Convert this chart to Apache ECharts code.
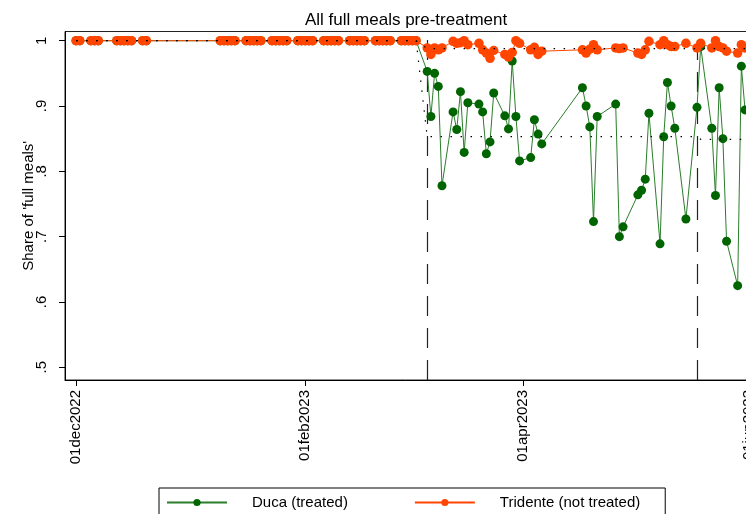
<!DOCTYPE html>
<html><head><meta charset="utf-8">
<script src="https://cdn.jsdelivr.net/npm/echarts@6/dist/echarts.min.js"></script>
<style>html,body{margin:0;padding:0;background:#fff}#c{width:746px;height:514px}</style>
</head><body><div id="c"></div>
<script>
// ---- data ----
const dates = [
 '2022-12-01','2022-12-02','2022-12-05','2022-12-06','2022-12-07',
 '2022-12-12','2022-12-13','2022-12-14','2022-12-15','2022-12-16',
 '2022-12-19','2022-12-20',
 '2023-01-09','2023-01-10','2023-01-11','2023-01-12','2023-01-13',
 '2023-01-16','2023-01-17','2023-01-18','2023-01-19','2023-01-20',
 '2023-01-23','2023-01-24','2023-01-25','2023-01-26','2023-01-27',
 '2023-01-30','2023-01-31','2023-02-01','2023-02-02','2023-02-03',
 '2023-02-06','2023-02-07','2023-02-08','2023-02-09','2023-02-10',
 '2023-02-13','2023-02-14','2023-02-15','2023-02-16','2023-02-17',
 '2023-02-20','2023-02-21','2023-02-22','2023-02-23','2023-02-24',
 '2023-02-27','2023-02-28','2023-03-01','2023-03-02','2023-03-03',
 '2023-03-06','2023-03-07','2023-03-08','2023-03-09','2023-03-10',
 '2023-03-13','2023-03-14','2023-03-15','2023-03-16','2023-03-17',
 '2023-03-20','2023-03-21','2023-03-22','2023-03-23','2023-03-24',
 '2023-03-27','2023-03-28','2023-03-29','2023-03-30','2023-03-31',
 '2023-04-03','2023-04-04','2023-04-05','2023-04-06',
 '2023-04-17','2023-04-18','2023-04-19','2023-04-20','2023-04-21',
 '2023-04-26','2023-04-27','2023-04-28',
 '2023-05-02','2023-05-03','2023-05-04','2023-05-05',
 '2023-05-08','2023-05-09','2023-05-10','2023-05-11','2023-05-12',
 '2023-05-15','2023-05-18','2023-05-19',
 '2023-05-22','2023-05-23','2023-05-24','2023-05-25','2023-05-26',
 '2023-05-29','2023-05-30','2023-05-31'
];
const duca = [
 1,1,1,1,1, 1,1,1,1,1, 1,1,
 1,1,1,1,1, 1,1,1,1,1, 1,1,1,1,1, 1,1,1,1,1, 1,1,1,1,1, 1,1,1,1,1, 1,1,1,1,1, 1,1,1,1,1,
 0.953,0.884,0.950,0.930,0.778,
 0.891,0.864,0.922,0.829,0.905,
 0.903,0.891,0.827,0.845,0.920,
 0.885,0.865,0.969,0.884,0.816,
 0.821,0.879,0.857,0.842,
 0.928,0.900,0.868,0.723,0.884,
 0.903,0.700,0.715,
 0.764,0.771,0.788,0.889,
 0.689,0.853,0.936,0.900,0.866,
 0.727,0.898,0.991,
 0.866,0.763,0.928,0.850,0.693,
 0.625,0.961,0.894
];
const tridente = [
 1,1,1,1,1, 1,1,1,1,1, 1,1,
 1,1,1,1,1, 1,1,1,1,1, 1,1,1,1,1, 1,1,1,1,1, 1,1,1,1,1, 1,1,1,1,1, 1,1,1,1,1, 1,1,1,1,1,
 0.989,0.979,0.989,0.986,0.989,
 0.999,0.996,0.997,1.000,0.994,
 0.996,0.986,0.981,0.973,0.985,
 0.979,0.975,0.982,1.000,0.996,
 0.986,0.990,0.979,0.984,
 0.986,0.981,0.987,0.994,0.986,
 0.989,0.988,0.989,
 0.981,0.979,0.986,0.999,
 0.994,1.000,0.994,0.991,0.991,
 0.996,0.989,0.996,
 0.989,1.000,0.991,0.989,0.984,
 0.981,0.994,0.989
];
const periodStarts = ['2022-12-01','2023-03-06','2023-05-19'];
const ducaMeans = [1, 0.853, 0.849];
const tridenteMeans = [1, 0.988, 0.988];
const treatmentLines = ['2023-03-06','2023-05-18'];
const xTicks = ['2022-12-01','2023-02-01','2023-04-01','2023-06-01'];
const yTicks = [0.5, 0.6, 0.7, 0.8, 0.9, 1];

// ---- helpers ----
function ts(s){const p=s.split('-').map(Number);return new Date(p[0],p[1]-1,p[2]).getTime();}
const months=['jan','feb','mar','apr','may','jun','jul','aug','sep','oct','nov','dec'];
function fmtDate(v){const d=new Date(v);return String(d.getDate()).padStart(2,'0')+months[d.getMonth()]+d.getFullYear();}
function meanFor(s, means){let idx=0;for(let i=0;i<periodStarts.length;i++){if(ts(s)>=ts(periodStarts[i]))idx=i;}return means[idx];}

const font = '"Liberation Sans", Arial, sans-serif';
const chart = echarts.init(document.getElementById('c'), null, {renderer:'canvas'});
chart.setOption({
  animation:false,
  backgroundColor:'#fff',
  title:{text:'All full meals pre-treatment', left:300, top:7,
    textStyle:{fontFamily:font, fontSize:17, fontWeight:'normal', color:'#000'}},
  grid:{left:65, top:31.5, width:717, height:348.5, outerBoundsMode:'none', containLabel:false,
    show:true, borderColor:'#222', borderWidth:1, backgroundColor:'transparent'},
  legend:{left:159, top:488, orient:'horizontal', padding:[7,25,7,7], itemWidth:60, itemHeight:9, itemGap:66,
    borderColor:'#000', borderWidth:1, borderRadius:0,
    data:['Duca (treated)','Tridente (not treated)'],
    textStyle:{fontFamily:font, fontSize:15, color:'#000', padding:[0,0,0,20]}},
  xAxis:{type:'value', min:ts('2022-11-28'), max:ts('2023-06-10'), scale:true,
    axisLine:{show:true, onZero:false, lineStyle:{color:'#000', width:1}},
    axisTick:{show:true, customValues:xTicks.map(ts), length:6, lineStyle:{color:'#000'}},
    axisLabel:{show:true, customValues:xTicks.map(ts), rotate:90, formatter:fmtDate, margin:10,
      fontFamily:font, fontSize:15, color:'#000'},
    splitLine:{show:false}},
  yAxis:{type:'value', min:0.4805, max:1.0141,
    name:"Share of 'full meals'", nameLocation:'middle', nameGap:29, nameMoveOverlap:false,
    nameTextStyle:{fontFamily:font, fontSize:15, color:'#000'},
    axisLine:{show:true, onZero:false, lineStyle:{color:'#000', width:1}},
    axisTick:{show:true, customValues:yTicks, length:6, lineStyle:{color:'#000'}},
    axisLabel:{show:true, customValues:yTicks, rotate:90, margin:16,
      formatter:v=>v===1?'1':'.'+Math.round(v*10), fontFamily:font, fontSize:15, color:'#000'},
    splitLine:{show:false}},
  series:[
    {name:'treatment', type:'line', data:[], z:1, silent:true,
      markLine:{z:1, silent:true, symbol:['none','none'], label:{show:false},
        lineStyle:{color:'#222', type:[20,12], width:1.2},
        data:treatmentLines.map(d=>({xAxis:ts(d)}))}},
    {name:'Duca (treated)', type:'line', z:2, symbol:'circle', symbolSize:9,
      itemStyle:{color:'#006400'}, lineStyle:{color:'#2a7d2a', width:1},
      data:dates.map((d,i)=>[ts(d), duca[i]])},
    {name:'Tridente (not treated)', type:'line', z:2, symbol:'circle', symbolSize:9.5,
      itemStyle:{color:'#ff4500'}, lineStyle:{color:'#ff4500', width:1},
      data:dates.map((d,i)=>[ts(d), tridente[i]])},
    {name:'Duca mean', type:'line', z:3, symbol:'none', silent:true,
      lineStyle:{color:'#000', width:1.2, type:[1.5,8.5]},
      data:dates.map(d=>[ts(d), meanFor(d, ducaMeans)])},
    {name:'Tridente mean', type:'line', z:3, symbol:'none', silent:true,
      lineStyle:{color:'#000', width:1.2, type:[1.5,8.5]},
      data:dates.map(d=>[ts(d), meanFor(d, tridenteMeans)])}
  ]
});
</script></body></html>
